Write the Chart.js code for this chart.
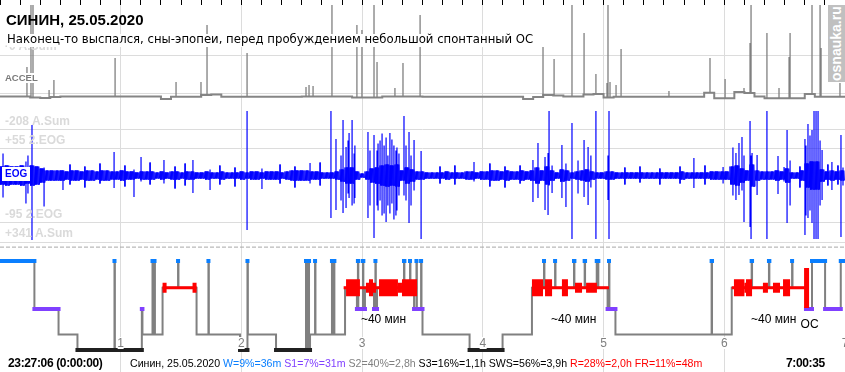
<!DOCTYPE html>
<html>
<head>
<meta charset="utf-8">
<script src="https://cdn.jsdelivr.net/npm/chart.js@4.4.1/dist/chart.umd.min.js"></script>
<style>
  body { margin: 0; background: #fff; }
  #wrap { position: relative; width: 845px; height: 372px; overflow: hidden; background: #fff; }
  #wrap canvas { position: absolute; left: 0; }
  .t { position: absolute; white-space: nowrap; line-height: 1; font-family: "Liberation Sans", Arial, sans-serif; }
  .faint { color: #dadada; font-weight: bold; font-size: 12px; left: 5px; }
  .hour { color: #808080; font-size: 12px; top: 337px; transform: translateX(-50%); background: #fff; }
  .note { color: #000; font-size: 12px; }
</style>
</head>
<body>
<div id="wrap">
  <canvas id="accel" width="845" height="100" style="top:0"></canvas>
  <canvas id="eog" width="845" height="147" style="top:100px"></canvas>
  <canvas id="hyp" width="845" height="126" style="top:246px"></canvas>

  <div class="t faint" style="top:40px">-0 A.Sum</div>
  <div class="t" style="left:6px; top:12px; font-weight:bold; font-size:15px">СИНИН, 25.05.2020</div>
  <div class="t" style="left:7px; top:34px; font-family:'DejaVu Sans',sans-serif; font-size:11.7px; background:#fff; padding-bottom:1px">Наконец-то выспался, сны-эпопеи, перед пробуждением небольшой спонтанный ОС</div>
  <div class="t" style="left:5px; top:73px; color:#7a7a7a; font-weight:bold; font-size:9.5px; background:#fff">ACCEL</div>
  <div class="t faint" style="top:115px">-208 A.Sum</div>
  <div class="t faint" style="top:134px">+55 2.EOG</div>
  <div class="t" style="left:2px; top:167px; color:#0000ff; font-weight:bold; font-size:10px; background:#fff; padding:2px 3px">EOG</div>
  <div class="t faint" style="top:208px">-95 2.EOG</div>
  <div class="t faint" style="top:227px">+341 A.Sum</div>

  <div style="position:absolute; left:828px; top:5px; width:17px; height:77px; background:#c0c0c0"></div>
  <div class="t" style="left:829px; top:6px; height:75px; color:#fff; font-weight:bold; font-size:14px; writing-mode:vertical-rl; transform:rotate(180deg); text-align:center">osnauka.ru</div>

  <div class="t" style="left:8px; top:357px; font-weight:bold; font-size:12px; letter-spacing:-0.35px">23:27:06 (0:00:00)</div>
  <div class="t" style="left:130px; top:358px; font-size:10.6px">Синин, 25.05.2020 <span style="color:#0a7fff">W=9%=36m</span> <span style="color:#8040ff">S1=7%=31m</span> <span style="color:#808080">S2=40%=2,8h</span> S3=16%=1,1h SWS=56%=3,9h <span style="color:#ff0000">R=28%=2,0h FR=11%=48m</span></div>
  <div class="t" style="left:786px; top:357px; font-weight:bold; font-size:12px; letter-spacing:-0.35px">7:00:35</div>
</div>

<script>
// время — минуты от начала записи (23:27:06), часовые деления 1..7
const hourLabels = ['1', '2', '3', '4', '5', '6', '7'];

// глубина стадий на гипнограмме
const stageDepth = { W: 0, R: 1, S1: 1.8, S2: 2.75, S3: 3.33 };

// гипнограмма: момент начала стадии и стадия
const hypTime = [0, 17.1, 29.1, 38.5, 56.9, 57.1, 70.5, 70.8, 75.8, 76.0, 76.8, 77.0, 80.8, 88.5, 88.7,
  97.7, 103.6, 103.8, 119.3, 123.0, 123.2, 137.2, 152.1, 152.3, 152.7, 152.9, 153.4, 153.6, 154.1,
  156.6, 156.8, 165.0, 165.2, 166.0, 166.2, 171.5, 177.4, 177.9, 178.1, 180.4, 180.6, 181.4, 185.9,
  186.6, 186.8, 187.4, 200.8, 201.0, 203.8, 204.0, 205.8, 207.0, 207.2, 209.3, 209.5, 210.0, 233.4,
  249.8, 264.4, 270.4, 270.6, 275.9, 276.1, 285.3, 285.5, 290.6, 290.8, 296.6, 296.8, 297.2, 297.4,
  302.0, 302.7, 302.9, 305.9, 353.7, 353.9, 363.7, 373.6, 373.8, 382.2, 382.4, 393.7, 393.9, 400.6,
  403.6, 410.1, 417.9];
const hypStage = ['W', 'S1', 'S2', 'S3', 'W', 'S3', 'S1', 'S2', 'W', 'S2', 'W', 'S2', 'R', 'W', 'R',
  'S2', 'W', 'S2', 'S3', 'W', 'S2', 'S3', 'W', 'S3', 'W', 'S3', 'W', 'S3', 'S2',
  'W', 'S2', 'W', 'S2', 'W', 'S2', 'R', 'S1', 'W', 'S1', 'W', 'S1', 'R', 'S1',
  'W', 'S1', 'R', 'W', 'R', 'W', 'R', 'S1', 'W', 'S1', 'W', 'S1', 'S2', 'S3',
  'S2', 'R', 'W', 'R', 'W', 'R', 'W', 'R', 'W', 'R', 'W', 'R', 'W', 'R',
  'S1', 'W', 'S1', 'S2', 'W', 'S2', 'R', 'W', 'R', 'W', 'R', 'W', 'R', 'S1',
  'W', 'S1', 'W'];
const recordEnd = 420;

// фазы REM: плотность движений глаз 1..3
const remStart = [80.8, 80.8, 95.7,
  170.8, 172.0, 181.9, 183.4, 185.4, 188.4, 197.8, 199.8,
  264.4, 264.4, 270.9, 279.3, 285.8, 291.3,
  363.7, 364.8, 370.0, 370.8, 379.2, 384.2, 389.2];
const remEnd = [97.7, 82.8, 97.7,
  207.3, 178.9, 183.4, 185.4, 186.9, 197.8, 199.8, 207.3,
  302.7, 269.9, 274.4, 282.3, 289.3, 296.7,
  400.6, 370.0, 370.8, 373.8, 381.7, 387.7, 392.7];
const remDens = [1, 2, 2,
  1, 3, 2, 3, 2, 3, 2, 3,
  1, 3, 3, 3, 2, 2,
  1, 3, 2, 3, 2, 2, 3];

// осознанный сон (ОС)
const ocTime = 400.9, ocTop = 0.26, ocBottom = 1.76;
const remNotes = [179.4, 273.9, 373.3];

// EOG: полуразмах фона по окнам
const eogAmp = [9, 10, 9, 9, 10, 8, 10, 9, 7,
  5, 5, 5, 5, 4, 5, 5, 4, 5, 5, 4, 5, 5, 4,
  4, 5, 4, 4, 3, 4, 4, 4, 3, 4, 3, 4, 4, 3, 4, 4, 3, 3, 4, 3, 3, 4, 3, 3, 3, 4, 3,
  4, 4, 3, 4, 4, 4, 3, 4, 5, 5, 5, 5, 4, 4, 3, 3,
  3, 4, 6, 8, 8, 4, 2, 4, 7, 8, 10, 11, 10, 11, 5, 8, 6, 4,
  4, 3, 3, 3, 3, 4, 3, 3, 3, 4, 4, 3, 4, 4, 5, 5, 4, 5, 4, 4, 5, 4,
  5, 8, 5, 9, 5, 3, 6, 5, 3, 4, 5, 6, 4, 3, 3, 4,
  4, 3, 3, 3, 3, 3, 3, 3, 3, 3, 3, 3, 3, 3, 4, 3, 3, 3, 3, 3, 4, 4,
  4, 4, 9, 10, 7, 5, 11, 5, 4, 4, 4, 5, 4, 7, 3, 3, 5, 12, 14, 14, 6, 4, 5, 4, 5];
// EOG: крупные выбросы (движения глаз)
const eogSpikeT = [1.5, 12.9, 13.9, 15.9, 21.9, 31.3, 56.7, 66.6, 70.1, 81.5, 95.9, 104.4, 122.8, 130.2,
  154.1, 164.5, 167.0, 169.5, 170.5, 172.0, 173.0, 173.5, 175.0, 176.0, 176.4, 182.9, 183.9, 185.9, 187.4,
  187.9, 188.9, 189.9, 190.9, 191.9, 192.8, 193.8, 194.8, 195.8, 196.8, 197.3, 198.3, 200.8, 201.8,
  203.3, 204.3, 205.8, 209.3, 235.6, 264.9, 267.4, 270.9, 272.4, 272.9, 274.4,
  279.3, 281.3, 284.3, 287.3, 290.3, 292.3, 293.7, 296.2, 302.2, 302.7, 344.9, 359.4, 364.3, 365.8,
  367.3, 368.8, 369.8, 372.8, 373.3, 373.8, 376.3, 381.2, 386.7, 389.7, 391.2, 392.7, 400.1, 400.6,
  401.6, 402.6, 403.6, 404.6, 405.6, 406.6, 407.6, 408.6, 413.5, 418.0, 419.0];
const eogSpikeHi = [22, 14, 20, 50.5, 8, 5, 23.5, 6, 18.5, 15.5, 15.5, 6, 64.5, 7,
  12.5, 64.5, 36.5, 20, 55.5, 28.5, 35, 42.5, 55.5, 22, 30, 43.5, 25, 40.5, 25,
  32, 35, 42, 30, 38, 20, 42.5, 36, 30, 25, 28, 22, 59.5, 30,
  43.5, 20, 35.5, 24.5, 13.5, 15.5, 32.5, 18.5, 22.5, 64.5, 10,
  30.5, 12, 52.5, 15, 35.5, 28.5, 20, 64.5, 20, 64.5, 17.5, 8.5, 28, 22.5,
  32.5, 38.5, 20, 54.5, 20, 22.5, 20.5, 64.5, 19.5, 8.5, 45.5, 15, 36.5, 30,
  51.5, 40, 45.5, 64.5, 64.5, 64.5, 35, 25.5, 13.5, 40.5, 8];
const eogSpikeLo = [-22, -28, -18, -64.5, -31, -14.5, -12.5, -21.5, -6, -8, -17.5, -14.5, -54.5, -13.5,
  -8, -42.5, -34.5, -25, -37.5, -32.5, -18, -22.5, -30, -28, -22.5, -42.5, -30, -62.5, -30,
  -35, -25, -40, -38, -46.5, -30, -38, -28, -44, -40, -35, -20, -20, -25,
  -47.5, -30, -15, -63.5, -6, -26.5, -22.5, -34.5, -39.5, -10, -17.5,
  -22.5, -31.5, -63.5, -18, -21.5, -29.5, -12, -63.5, -24.5, -63.5, -12.5, -8, -20, -24.5,
  -19.5, -15, -46.5, -51.5, -63.5, -10, -19.5, -63.5, -18.5, -6, -47.5, -30, -59.5, -40,
  -42.5, -35, -47.5, -63.5, -63.5, -63.5, -30, -24.5, -14.5, -61.5, -10];
// EOG: мелкие выбросы фона
const eogSmallT = [34.8, 42.2, 49.7, 62.1, 74.6, 87.0, 92.0, 109.3, 116.8, 139.2, 146.6, 159.1, 218.7,
  226.1, 243.5, 251.0, 258.5, 310.6, 318.1, 328.0, 338.0, 350.4, 397.6, 411.5, 416.5];
const eogSmallHi = [11, 9, 12, 10, 13, 9, 12, 10, 8, 11, 9, 13, 9, 10, 12, 9, 10, 8, 9, 7, 9, 10, 9, 11, 10];
const eogSmallLo = [-9, -12, -8, -11, -9, -13, -10, -9, -11, -8, -12, -10, -8, -9, -11, -12, -8, -9, -7, -9,
  -8, -9, -12, -10, -9];
const eogGrid = [46.5, 27.5, -46.5, -66.5];

// акселерометр: уровень фона по 5-минутным окнам и пики
const accelBase = [0.5, 0.5, 0.5, -0.5, -1, 0,
  0.5, 0.5, 0.5, 0.5, 0.5, 0.5, 0.5, 0.5, 0.5, 0.5,
  -2, 0.3, 0.3, 0.3, 2, 2.5,
  0.3, 0.3, 0.3, 0.3, 0.3, 0.3, 0.3, 0.3,
  0.5, 0.5, 0.5, 0.5, 0.5, -0.5, -0.5, -0.5, 0.5, 0.5, 0.5, 0.5,
  0.3, 0.3, 0.3, 0.3, 0.3, 0.3, 0.3, 0.3, 0.3, 0.3,
  -2, 0, 2, 1.5, 0.5, 0.5, 2.5, 3, -0.5,
  0.3, 0.3, 0.3, 0.3, 0.3, 0.3, 0.3, 0.3, 0.3,
  4.3, -1.3, -1.3, 5, 4, 0.5, -1.3, -1.3, -1.3, -1.3, 3, 0.3, 0.3, 0.3, 0.3];
const accelSpikeT = [13.4, 15.4, 16.4, 24.4, 26.8, 57.2, 87.5, 99.9, 102.9, 122.8, 152.1, 153.6, 155.6,
  165.0, 177.4, 179.9, 185.9, 187.4, 196.3, 200.3, 208.8, 269.9, 275.4, 284.3, 290.3, 296.2, 301.7,
  302.2, 303.2, 306.2, 308.7, 332.5, 352.9, 360.4, 369.8, 372.8, 373.3, 381.2, 387.2, 392.2, 392.7,
  403.6, 407.6, 408.1, 417.5];
const accelSpikeV = [30, 92, 92, 7, 17, 39, 15, 15, 72, 44, 10, 12, 11,
  92, 72, 67, 92, 35, 9, 34, 82, 50, 38, 93, 64, 23, 14,
  93, 15, 12, 48, 6, 39, 18, 9, 54, 93, 64, 9, 40, 64,
  93, 93, 49, 14];
const accelGrid = [42, 4];

const GRID = '#dcdcdc';

function hourGrid(c) {
  const v = c.tick ? c.tick.value : -1;
  return (v > 0 && v < recordEnd && v % 60 === 0) ? GRID : 'transparent';
}

function timeAxis(extra) {
  return Object.assign({
    type: 'linear', min: 0, max: recordEnd, position: 'bottom',
    afterBuildTicks: s => {
      s.ticks = [];
      for (let v = 0; v <= recordEnd; v += 10) s.ticks.push({ value: v });
    },
    ticks: { display: false, autoSkip: false },
    grid: { color: hourGrid, drawTicks: false, lineWidth: 1 },
    border: { display: false }
  }, extra || {});
}

function valueAxis(min, max, gridValues) {
  return {
    type: 'linear', min: min, max: max,
    display: !!gridValues,
    afterBuildTicks: s => { s.ticks = (gridValues || []).map(v => ({ value: v })); },
    ticks: { display: false },
    grid: { color: GRID, drawTicks: false },
    border: { display: false }
  };
}

function verticals(ts, his, los) {
  const pts = [];
  ts.forEach((t, i) => pts.push({ x: t, y: his[i] }, { x: t, y: los[i] }, { x: t, y: null }));
  return pts;
}

const common = {
  responsive: false,
  devicePixelRatio: 1,
  animation: false,
  events: [],
  layout: { padding: 0 },
  elements: { point: { radius: 0 }, line: { tension: 0 } },
  plugins: { legend: { display: false }, tooltip: { enabled: false } }
};

// ---- ACCEL ----
const accelLine = accelBase.map((v, i) => ({ x: i * 5, y: v }));
const accelFoot = accelSpikeT.map(t => accelBase[Math.floor(t / 5)]);

new Chart(document.getElementById('accel'), {
  type: 'line',
  data: {
    datasets: [
      { data: verticals(accelSpikeT, accelSpikeV, accelFoot), borderColor: '#808080', borderWidth: 1.3, spanGaps: false },
      { data: accelLine, borderColor: '#858585', borderWidth: 2, stepped: true }
    ]
  },
  options: Object.assign({}, common, {
    scales: {
      x: timeAxis({
        position: 'top',
        grid: { color: hourGrid, drawTicks: true, tickLength: 5, tickColor: '#000', tickWidth: 1 }
      }),
      y: valueAxis(-3, 92, accelGrid)
    }
  })
});

// ---- EOG ----
const eogStep = recordEnd / eogAmp.length;
const eogBand = [];
eogAmp.forEach((a, i) => {
  for (let k = 0; k < 8; k++) eogBand.push({ x: (i + k / 8) * eogStep, y: k % 2 ? -a : a });
});

new Chart(document.getElementById('eog'), {
  type: 'line',
  data: {
    datasets: [
      { data: verticals(eogSpikeT, eogSpikeHi, eogSpikeLo), borderColor: '#0000ff', borderWidth: 1.2, spanGaps: false },
      { data: verticals(eogSmallT, eogSmallHi, eogSmallLo), borderColor: '#0000ff', borderWidth: 1, spanGaps: false },
      { data: eogBand, borderColor: '#0000ff', borderWidth: 1 }
    ]
  },
  options: Object.assign({}, common, {
    scales: {
      x: timeAxis(),
      y: valueAxis(-71.5, 75.5, eogGrid)
    }
  })
});

// ---- Гипнограмма ----
const stepData = hypTime.map((t, i) => ({ x: t, y: stageDepth[hypStage[i]] }));
stepData.push({ x: recordEnd, y: stageDepth[hypStage[hypStage.length - 1]] });

function stageBars(st) {
  const pts = [];
  hypStage.forEach((s, i) => {
    if (s !== st) return;
    const t1 = i + 1 < hypTime.length ? hypTime[i + 1] : recordEnd;
    pts.push({ x: hypTime[i], y: stageDepth[s] }, { x: t1, y: stageDepth[s] }, { x: t1, y: null });
  });
  return pts;
}

function remBars(d) {
  const pts = [];
  remStart.forEach((t, i) => {
    if (remDens[i] !== d) return;
    pts.push({ x: t, y: stageDepth.R }, { x: remEnd[i], y: stageDepth.R }, { x: remEnd[i], y: null });
  });
  return pts;
}

const barStyle = { borderWidth: 4, borderCapStyle: 'square', spanGaps: false };

const hypChart = new Chart(document.getElementById('hyp'), {
  type: 'line',
  data: {
    datasets: [
      { data: [{ x: 0, y: -0.52 }, { x: recordEnd, y: -0.52 }], borderColor: '#a8a8a8', borderWidth: 1, borderDash: [4, 2], order: 9 },
      { data: stepData, borderColor: '#808080', borderWidth: 2, stepped: true, order: 8 },
      Object.assign({ data: stageBars('S3'), borderColor: '#202020', order: 7 }, barStyle),
      Object.assign({ data: stageBars('S1'), borderColor: '#8040ff', order: 6 }, barStyle),
      { data: remBars(1), borderColor: '#ff0000', borderWidth: 3, spanGaps: false, order: 4 },
      { data: remBars(2), borderColor: '#ff0000', borderWidth: 10, spanGaps: false, order: 3 },
      { data: remBars(3), borderColor: '#ff0000', borderWidth: 17, spanGaps: false, order: 2 },
      { data: [{ x: ocTime, y: ocTop }, { x: ocTime, y: ocBottom }], borderColor: '#ff0000', borderWidth: 5, order: 1 },
      Object.assign({ data: stageBars('W'), borderColor: '#0a7fff', order: 0 }, barStyle)
    ]
  },
  options: Object.assign({}, common, {
    scales: {
      x: timeAxis(),
      y: { type: 'linear', reverse: true, min: -0.562, max: 4.157, display: false }
    }
  })
});

// подписи часов и заметки, по шкале времени
const wrap = document.getElementById('wrap');
const hx = hypChart.scales.x;
hourLabels.forEach((lab, i) => {
  const d = document.createElement('div');
  d.className = 't hour';
  d.textContent = lab;
  d.style.left = hx.getPixelForValue((i + 1) * 60) + 'px';
  wrap.appendChild(d);
});
remNotes.forEach(t => {
  const d = document.createElement('div');
  d.className = 't note';
  d.textContent = '~40 мин';
  d.style.left = hx.getPixelForValue(t) + 'px';
  d.style.top = '313px';
  wrap.appendChild(d);
});
const oc = document.createElement('div');
oc.className = 't note';
oc.textContent = 'ОС';
oc.style.left = (hx.getPixelForValue(ocTime) - 6) + 'px';
oc.style.top = '318px';
wrap.appendChild(oc);
</script>
</body>
</html>
